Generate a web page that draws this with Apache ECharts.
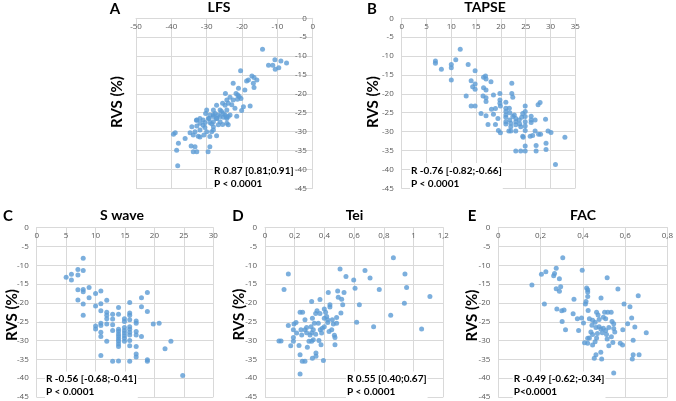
<!DOCTYPE html>
<html>
<head>
<meta charset="utf-8">
<script src="https://cdn.jsdelivr.net/npm/echarts@6/dist/echarts.min.js"></script>
<style>html,body{margin:0;padding:0;background:#fff;}#c{width:676px;height:401px;}</style>
</head>
<body>
<div id="c"></div>
<script>
// ---- data: [x, RVS %] ----
const lfsPoints = [[-14.2,-8.2],[-12.5,-12.4],[-11.3,-12.4],[-10.7,-11],[-9,-11.3],[-7.4,-11.8],[-10.6,-13.5],[-9.6,-13.1],[-20.4,-13.9],[-17.2,-15.3],[-16.6,-15.7],[-18.2,-16.3],[-18.7,-16.6],[-15.8,-16.3],[-16.8,-17.2],[-16.6,-18.3],[-19.2,-19],[-21,-18.5],[-22.5,-17.2],[-24.7,-19.9],[-21.7,-19.9],[-21.2,-20.3],[-20.8,-20.7],[-20.3,-21.2],[-23.4,-20.9],[-22.5,-21.6],[-21.3,-21.4],[-24.3,-21.6],[-25.5,-22.5],[-23.9,-22.5],[-22.9,-22.9],[-19.6,-23.4],[-17.7,-23.2],[-22,-23.8],[-24.3,-24.3],[-25.8,-24.7],[-28.1,-24.3],[-30,-24.3],[-30.3,-25.2],[-29.1,-25.6],[-27.6,-25.2],[-26.7,-25.6],[-24.8,-25.6],[-23.4,-25.6],[-21.5,-25.9],[-20.1,-24.4],[-31.9,-26.5],[-32.8,-26.9],[-31,-26.9],[-29.5,-26.5],[-28.1,-26],[-27.2,-26.5],[-26.2,-26],[-25.3,-26.2],[-24.3,-26.5],[-23.9,-26],[-31.9,-27.8],[-30.5,-27.6],[-29.1,-27.6],[-28.1,-27.4],[-26.7,-28.2],[-25.5,-28.1],[-24.3,-27.8],[-23.9,-28.2],[-34.2,-28.7],[-32.8,-28.5],[-30.5,-28.9],[-28.1,-28.7],[-31.9,-29.6],[-33.3,-30],[-34.7,-30.3],[-30,-30],[-28.6,-30],[-33.8,-30.9],[-32.4,-31.2],[-30.8,-30.9],[-29.1,-31.3],[-27.2,-31.1],[-39.4,-30.7],[-38.9,-30.3],[-36.1,-31.8],[-38,-33.1],[-38.5,-34.9],[-34.4,-33.8],[-33.3,-34],[-33.8,-35.3],[-32.8,-35.3],[-29.1,-34],[-29.6,-35.3],[-38.2,-39],[-28.1,-25.5],[-29.3,-26.5],[-27.2,-26.5],[-26.2,-27.4],[-28.6,-27.9],[-31,-28.3],[-32.9,-27],[-25.3,-25.2],[-24.4,-26.1],[-26.2,-24.3],[-27.2,-23],[-24.8,-23],[-28.1,-29.6],[-31.9,-31.4]];

const tapsePoints = [[6.8,-11.3],[6.8,-11.9],[8,-13.5],[10,-12.2],[10,-13.1],[10.9,-11],[11.8,-8.2],[10,-16.3],[13.4,-12.2],[14.8,-13.9],[14,-16.5],[14.3,-18.1],[14.8,-17.4],[14.8,-18.8],[16.5,-15.6],[16.9,-15.3],[17,-16.1],[18,-16.8],[16.5,-18.4],[17,-19],[13,-20.6],[14,-23.2],[14.8,-23.2],[16.4,-20.6],[17,-21],[17,-22],[18.5,-20.3],[19.8,-19.9],[19.8,-21.6],[19.8,-22.5],[19.9,-23.2],[22.2,-17.2],[22.2,-19.9],[22.4,-20.9],[16,-25.2],[17,-25.8],[17.4,-28.1],[18.1,-24.1],[18.9,-23.9],[18.5,-25.4],[19.4,-26.5],[18.9,-28.1],[19.5,-29.7],[19.9,-30.3],[21,-22.2],[21,-23.8],[21,-24.7],[21,-25.6],[21,-26.2],[21,-27.4],[21,-28],[21.7,-23.8],[21.8,-25],[21.8,-26.9],[22,-27.8],[22,-28.7],[22,-29.8],[22.4,-26],[22.7,-25.6],[23,-26.5],[23,-27.4],[23,-28.2],[23,-29.8],[23.7,-26.9],[23.8,-28],[24,-28.7],[24.2,-26.2],[24.4,-25.2],[24.9,-23.2],[24.9,-24.7],[24.9,-26],[24.9,-27.4],[24.9,-28.5],[24.9,-29.7],[24.4,-31.2],[24.5,-31.5],[24.9,-33.8],[23,-35.1],[24,-35.1],[24.9,-35.1],[26.1,-25.9],[26.1,-26.9],[26.1,-27.6],[25.9,-31.2],[26.4,-31],[26.9,-26.9],[26.9,-29.8],[27.1,-33.7],[27.1,-35.1],[27.5,-22.9],[27.9,-22.3],[27.6,-30.7],[28,-30.7],[29,-26.7],[29.1,-33.1],[29.1,-34.7],[29.5,-29.8],[30.1,-30.2],[31,-38.7],[32.9,-31.5],[21.6,-29.8]];

const sWavePoints = [[5,-13.2],[5.9,-12.4],[5.9,-13.9],[7,-11.1],[7,-12.6],[7.9,-8.1],[7.9,-11.4],[7,-16.5],[7.9,-16.4],[7.9,-17],[8.9,-15.9],[10,-17.5],[10.9,-16.8],[7,-19.2],[8.9,-18.6],[7.9,-20.3],[7.9,-23.3],[10,-20.8],[10.9,-20.2],[11.9,-19.3],[10.9,-22.1],[11.9,-22.5],[11.9,-23.3],[11.9,-24.2],[11.9,-25.6],[10,-26.1],[10,-26.9],[10.9,-25.4],[10.9,-26],[10.9,-27.8],[10.9,-28.9],[11.9,-30.2],[10.9,-34],[12.9,-23],[12.9,-24.3],[12.9,-25.8],[12.9,-27.3],[12.9,-35.5],[13.9,-21.2],[13.9,-23],[13.9,-27],[13.9,-27.6],[13.9,-28.3],[13.9,-28.9],[13.9,-29.6],[13.9,-30.2],[13.9,-30.9],[13.9,-31.6],[13.9,-35.4],[14.9,-24.2],[14.9,-24.9],[14.9,-26.5],[14.9,-27.3],[14.9,-28],[14.9,-28.7],[14.9,-29.4],[14.9,-30.2],[15.8,-19.9],[15.8,-22.7],[15.8,-23.3],[15.8,-24.5],[15.8,-26.3],[15.8,-27],[15.8,-27.8],[15.8,-28.5],[15.8,-30],[15.8,-31.4],[15.8,-35.5],[16.9,-24.8],[16.9,-25.4],[16.9,-27.6],[16.9,-28.5],[16.9,-31.6],[16.9,-33.6],[16.9,-34.4],[17.8,-18.6],[17.8,-21],[17.8,-28.9],[18.8,-17.2],[18.8,-22.3],[18.8,-35.1],[18.8,-35.5],[19.8,-25.6],[20.8,-25.4],[21.8,-32.2],[22.8,-30.2],[24.8,-39.3]];

const teiPoints = [[0.094,-30.1],[0.108,-30.1],[0.128,-16.4],[0.157,-12.3],[0.157,-26],[0.173,-31.4],[0.191,-30.2],[0.191,-29.2],[0.191,-27.1],[0.195,-25.6],[0.209,-25.2],[0.213,-28],[0.229,-31.3],[0.236,-22.5],[0.253,-22.5],[0.236,-33.8],[0.236,-38.9],[0.242,-27.1],[0.247,-28.5],[0.251,-35.5],[0.269,-35.5],[0.269,-27.1],[0.269,-24.5],[0.28,-26.5],[0.28,-27.9],[0.285,-31.8],[0.296,-30.2],[0.303,-28.5],[0.31,-26.3],[0.314,-27.9],[0.314,-30.2],[0.319,-24.1],[0.314,-19.6],[0.319,-34.7],[0.325,-29.8],[0.325,-27.1],[0.332,-25.4],[0.341,-22.8],[0.341,-28.3],[0.343,-33.3],[0.343,-34.2],[0.35,-22.1],[0.359,-25.4],[0.363,-30],[0.37,-19.1],[0.37,-22.8],[0.372,-27.1],[0.377,-31.1],[0.381,-28],[0.386,-26.7],[0.393,-35.3],[0.399,-24.1],[0.399,-21.6],[0.399,-26.3],[0.408,-22.5],[0.415,-23.6],[0.422,-24.5],[0.422,-25.2],[0.426,-17.2],[0.431,-27.6],[0.437,-20.5],[0.437,-21.1],[0.449,-27.1],[0.453,-24.5],[0.46,-25.6],[0.467,-28.6],[0.471,-31.1],[0.471,-29.2],[0.482,-25.4],[0.482,-23.9],[0.489,-16.8],[0.493,-18.5],[0.505,-11],[0.511,-22.7],[0.516,-19],[0.523,-20.5],[0.532,-17.2],[0.545,-13],[0.597,-13.9],[0.606,-16.1],[0.617,-25.1],[0.635,-20.5],[0.673,-11.4],[0.707,-13.4],[0.731,-26.3],[0.769,-16.4],[0.846,-23.3],[0.864,-8],[0.942,-12.3],[0.938,-20.1],[0.953,-15.9],[1.054,-26.9],[1.11,-18.3]];

const facPoints = [[0.159,-15.2],[0.204,-12.4],[0.225,-11.7],[0.218,-20.3],[0.305,-8],[0.274,-10.8],[0.266,-12.2],[0.262,-12.8],[0.289,-13.6],[0.397,-11.3],[0.515,-13.3],[0.662,-18.1],[0.566,-16.3],[0.274,-16.2],[0.289,-16.9],[0.295,-15.7],[0.358,-19],[0.418,-16],[0.423,-16.5],[0.423,-17.1],[0.423,-18.3],[0.415,-19.6],[0.412,-20.3],[0.486,-18.7],[0.277,-21.6],[0.3,-22.1],[0.311,-21.9],[0.595,-20.3],[0.623,-21],[0.425,-22],[0.302,-24.9],[0.318,-27.1],[0.354,-22.9],[0.374,-24.2],[0.38,-27.3],[0.394,-24],[0.403,-25.3],[0.465,-22.5],[0.472,-23.2],[0.503,-22.5],[0.518,-22.5],[0.534,-22.5],[0.431,-24.2],[0.446,-24.6],[0.458,-25.1],[0.477,-24.4],[0.497,-23.8],[0.508,-24.2],[0.538,-24.9],[0.546,-25.5],[0.546,-26.8],[0.551,-27.7],[0.589,-27.1],[0.612,-25.5],[0.631,-24],[0.646,-26.4],[0.7,-27.9],[0.638,-29.9],[0.443,-25.9],[0.462,-26.5],[0.477,-26.3],[0.485,-26.9],[0.497,-26.7],[0.508,-27.3],[0.523,-26.5],[0.438,-27.7],[0.446,-28.4],[0.469,-28.1],[0.492,-27.9],[0.512,-28.4],[0.535,-29],[0.515,-29.6],[0.423,-29.4],[0.431,-29.3],[0.465,-29.3],[0.458,-30.3],[0.423,-30.7],[0.408,-30.6],[0.446,-31.2],[0.523,-31.4],[0.542,-30.5],[0.577,-30.7],[0.588,-31.2],[0.638,-33.8],[0.666,-33.8],[0.634,-34.9],[0.485,-33.1],[0.462,-33.8],[0.454,-34.7],[0.489,-34.9],[0.546,-38.6]];

const panelLetters = ['A','B','C','D','E'];
const panelTitles = ['LFS','TAPSE','S wave','Tei','FAC'];
const rTexts = ['R 0.87 [0.81;0.91]','R -0.76 [-0.82;-0.66]','R -0.56 [-0.68;-0.41]','R 0.55 [0.40;0.67]','R -0.49 [-0.62;-0.34]'];
const pTexts = ['P < 0.0001','P < 0.0001','P < 0.0001','P < 0.0001','P<0.0001'];
const xRanges = [[-50,0,10],[0,35,5],[0,30,5],[0,1.2,0.2],[0,0.8,0.2]];
const yRange = [-45,0,5];
const yTitle = 'RVS (%)';

// ---- layout ----
const grids = [
  {left:136, top:18.3, width:176.7, height:170},
  {left:401.7, top:18.3, width:173.6, height:170},
  {left:36.7, top:227.7, width:176.6, height:169.6},
  {left:265, top:227.7, width:178.3, height:169.6},
  {left:498.3, top:227.7, width:172.4, height:169.6}
];
const letterPos = [[115,9],[372,9],[8,216],[238,216],[472,216]];
const titlePos = [[219,7],[485,7],[122,215],[354.5,215],[583,215]];
const yTitlePos = [[117,102],[373.5,102],[12,315],[239,314.5],[472.5,315.5]];
const statPos = [[213,171],[410,171],[45,379.5],[346,379.5],[512.7,379.5]];

const gridColor = '#d9d9d9';
const labelColor = '#595959';
const dotColor = '#5b9bd5';
const boldFont = 'Lato, "Open Sans", sans-serif';

const seriesData = [lfsPoints, tapsePoints, sWavePoints, teiPoints, facPoints];

const xAxes = xRanges.map((r, i) => ({
  type:'value', gridIndex:i, min:r[0], max:r[1], interval:r[2], position:'top',
  axisLine:{show:true, onZero:false, lineStyle:{color:gridColor}},
  axisTick:{show:false},
  splitLine:{show:true, lineStyle:{color:gridColor, width:1}},
  axisLabel:{inside:true, margin:4, color:labelColor, fontSize:8, fontFamily:'"Open Sans", sans-serif',
    formatter: v => { const s = String(+v.toFixed(2)); return s.replace('.', ','); }}
}));
const yAxes = xRanges.map((r, i) => ({
  type:'value', gridIndex:i, min:yRange[0], max:yRange[1], interval:yRange[2],
  position: i === 0 ? 'right' : 'left',
  axisLine:{show:true, onZero:false, lineStyle:{color:gridColor}},
  axisTick:{show:false},
  splitLine:{show:true, lineStyle:{color:gridColor, width:1}},
  axisLabel:{inside: i === 0, margin: i === 0 ? 6 : 8, color:labelColor, fontSize:8, fontFamily:'"Open Sans", sans-serif'}
}));

const graphics = [];
for (let i = 0; i < 5; i++) {
  graphics.push({type:'text', x:letterPos[i][0], y:letterPos[i][1], style:{text:panelLetters[i], font:'bold 15px '+boldFont, fill:'#000', align:'center', verticalAlign:'middle'}});
  graphics.push({type:'text', x:titlePos[i][0], y:titlePos[i][1], style:{text:panelTitles[i], font:'bold 14px '+boldFont, fill:'#000', align:'center', verticalAlign:'middle'}});
  graphics.push({type:'text', x:yTitlePos[i][0], y:yTitlePos[i][1], rotation:Math.PI/2, style:{text:yTitle, font:'bold 15px '+boldFont, fill:'#000', align:'center', verticalAlign:'middle'}});
  graphics.push({type:'text', z:1, x:statPos[i][0], y:statPos[i][1]+6, style:{text:rTexts[i]+'\n'+pTexts[i], font:'bold 10px '+boldFont, lineHeight:13, fill:'#000', align:'left', verticalAlign:'middle', backgroundColor:'#fff', padding:[1,1,1,1]}});
}

const chart = echarts.init(document.getElementById('c'), null, {renderer:'canvas'});
chart.setOption({
  animation:false,
  backgroundColor:'#fff',
  grid: grids,
  xAxis: xAxes,
  yAxis: yAxes,
  series: seriesData.map((d, i) => ({
    type:'scatter', xAxisIndex:i, yAxisIndex:i, data:d, symbol:'circle', symbolSize:5, z:3,
    itemStyle:{color:dotColor}
  })),
  graphic: graphics
});
</script>
</body>
</html>
